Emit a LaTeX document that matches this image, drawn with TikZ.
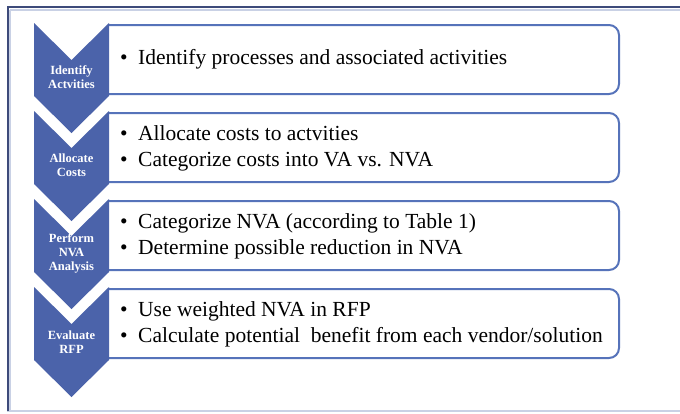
\documentclass[tikz,border=0pt]{standalone}
\usepackage{fontspec}
\setmainfont{Liberation Serif}
\definecolor{chev}{HTML}{4B63AA}
\definecolor{boxedge}{HTML}{5673BA}
\definecolor{framedark}{HTML}{3E4B7A}
\definecolor{framelight}{HTML}{C9D1E5}
\newcommand{\bul}{\makebox[18pt][l]{\textbullet}}
\begin{document}
\begin{tikzpicture}[x=1pt,y=-1pt,
  chevshape/.style={fill=chev},
  stepbox/.style={draw=boxedge,line width=2pt,fill=white,rounded corners=10pt},
  steplabel/.style={text=white,font=\bfseries\fontsize{12.5}{14}\selectfont,align=center,inner sep=0pt},
  steptext/.style={anchor=west,font=\fontsize{21.5}{26}\selectfont,align=left,inner sep=0pt}]
\useasboundingbox (0,0) rectangle (680,413);
\fill[white] (0,0) rectangle (680,413);
% outer frame
\draw[framelight,line width=1.5pt] (10,10) -- (682,10);
\draw[framelight,line width=1.5pt] (10,10) -- (10,411);
\draw[framelight,line width=1.5pt] (7,411) -- (682,411);
\draw[framedark,line width=2pt] (7.5,7) -- (682,7);
\draw[framedark,line width=2pt] (7.5,6) -- (7.5,411);
% text boxes (left side hidden by the chevrons)
\foreach \t in {23,111,199,287}{
  \filldraw[stepbox] (109,\t+2) -- (619,\t+2) -- (619,\t+71) -- (109,\t+71);
}
% chevrons
\foreach \t in {23,111,199,287}{
  \fill[chevshape] (34,\t) -- (71.5,\t+37) -- (109,\t) -- (109,\t+73)
     -- (71.5,\t+110) -- (34,\t+73) -- cycle;
}
% chevron labels
\node[steplabel] (l1) at (71.5,77) {Identify\\Actvities};
\node[steplabel] (l2) at (71.5,165) {Allocate\\Costs};
\node[steplabel] (l3) at (71.5,253) {Perform\\NVA\\Analysis};
\node[steplabel] (l4) at (71.5,342) {Evaluate\\RFP};
% box contents
\node[steptext] (t1) at (120,59.5) {\bul Identify processes and associated activities};
\node[steptext] (t2) at (120,148) {\bul Allocate costs to actvities\\\bul Categorize costs into VA vs. NVA};
\node[steptext] (t3) at (120,236) {\bul Categorize NVA (according to Table 1)\\\bul Determine possible reduction in NVA};
\node[steptext] (t4) at (120,324.5) {\bul Use weighted NVA in RFP\\\bul Calculate potential\ \ benefit from each vendor/solution};
\end{tikzpicture}
\end{document}
